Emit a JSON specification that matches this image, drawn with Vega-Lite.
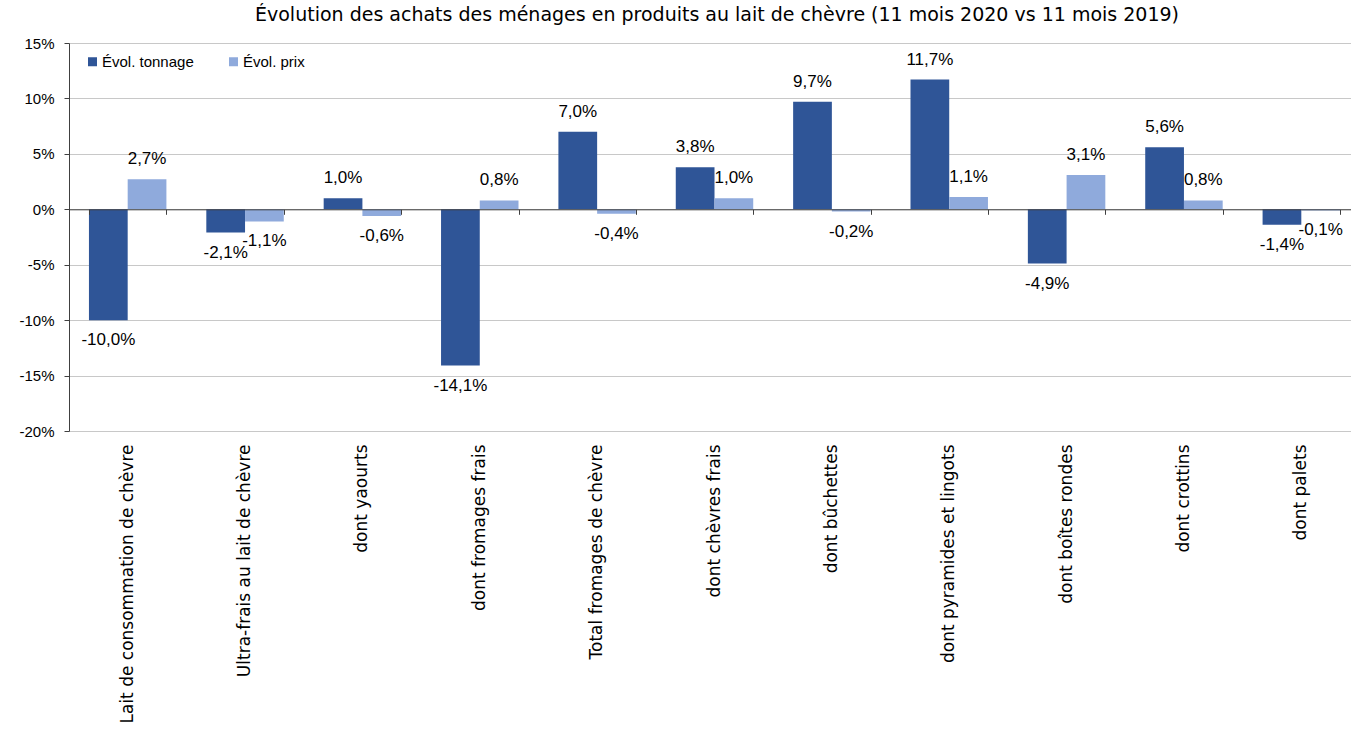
{
  "$schema": "https://vega.github.io/schema/vega-lite/v6.json",
  "width": 1282,
  "height": 388,
  "autosize": {"type": "none"},
  "padding": {"left": 69, "top": 43, "right": 0, "bottom": 301},
  "title": {
    "text": "Évolution des achats des ménages en produits au lait de chèvre (11 mois 2020 vs 11 mois 2019)",
    "font": "DejaVu Sans",
    "fontSize": 19,
    "fontWeight": "normal",
    "color": "#000000",
    "offset": 11,
    "dx": 7
  },
  "config": {
    "view": {"stroke": null},
    "locale": {
      "number": {"decimal": ",", "thousands": " ", "grouping": [3], "currency": ["", " €"], "minus": "-", "percent": "%"}
    }
  },
  "data": {
    "values": [
      {"cat": "Lait de consommation de chèvre", "series": "Évol. tonnage", "value": -0.100},
      {"cat": "Lait de consommation de chèvre", "series": "Évol. prix", "value": 0.027},
      {"cat": "Ultra-frais au lait de chèvre", "series": "Évol. tonnage", "value": -0.021},
      {"cat": "Ultra-frais au lait de chèvre", "series": "Évol. prix", "value": -0.011},
      {"cat": "dont yaourts", "series": "Évol. tonnage", "value": 0.010},
      {"cat": "dont yaourts", "series": "Évol. prix", "value": -0.006},
      {"cat": "dont fromages frais", "series": "Évol. tonnage", "value": -0.141},
      {"cat": "dont fromages frais", "series": "Évol. prix", "value": 0.008},
      {"cat": "Total fromages de chèvre", "series": "Évol. tonnage", "value": 0.070},
      {"cat": "Total fromages de chèvre", "series": "Évol. prix", "value": -0.004},
      {"cat": "dont chèvres frais", "series": "Évol. tonnage", "value": 0.038},
      {"cat": "dont chèvres frais", "series": "Évol. prix", "value": 0.010},
      {"cat": "dont bûchettes", "series": "Évol. tonnage", "value": 0.097},
      {"cat": "dont bûchettes", "series": "Évol. prix", "value": -0.002},
      {"cat": "dont pyramides et lingots", "series": "Évol. tonnage", "value": 0.117},
      {"cat": "dont pyramides et lingots", "series": "Évol. prix", "value": 0.011},
      {"cat": "dont boîtes rondes", "series": "Évol. tonnage", "value": -0.049},
      {"cat": "dont boîtes rondes", "series": "Évol. prix", "value": 0.031},
      {"cat": "dont crottins", "series": "Évol. tonnage", "value": 0.056},
      {"cat": "dont crottins", "series": "Évol. prix", "value": 0.008},
      {"cat": "dont palets", "series": "Évol. tonnage", "value": -0.014},
      {"cat": "dont palets", "series": "Évol. prix", "value": -0.001}
    ]
  },
  "encoding": {
    "xOffset": {"field": "series", "type": "nominal", "sort": ["Évol. tonnage", "Évol. prix"], "scale": {"paddingInner": 0, "paddingOuter": 0}},
    "y": {
      "field": "value",
      "type": "quantitative",
      "scale": {"domain": [-0.2, 0.15], "nice": false, "zero": false},
      "axis": {
        "title": null,
        "values": [-0.2, -0.15, -0.1, -0.05, 0, 0.05, 0.1, 0.15],
        "format": ".0%",
        "labelFont": "Liberation Sans",
        "labelFontSize": 15,
        "labelColor": "#000000",
        "labelPadding": 10,
        "tickSize": 5,
        "tickColor": "#404040",
        "domainColor": "#404040",
        "gridColor": "#c8c8c8",
        "gridWidth": 1
      }
    }
  },
  "layer": [
    {
      "mark": {"type": "bar"},
      "encoding": {
        "x": {
          "field": "cat",
          "type": "nominal",
          "sort": null,
          "scale": {"range": [0, 1291], "paddingInner": 0.34, "paddingOuter": 0.17},
          "axis": {
            "title": null,
            "orient": "bottom",
            "labelAngle": -90,
            "domain": false,
            "ticks": false,
            "grid": false,
            "labelFont": "DejaVu Sans",
            "labelFontSize": 17,
            "labelColor": "#000000",
            "labelPadding": 13,
            "labelLimit": 400
          }
        },
        "color": {
          "field": "series",
          "type": "nominal",
          "sort": ["Évol. tonnage", "Évol. prix"],
          "scale": {"domain": ["Évol. tonnage", "Évol. prix"], "range": ["#2F5597", "#8FAADC"]},
          "legend": {
            "title": null,
            "orient": "none",
            "legendX": 16,
            "legendY": 11,
            "direction": "horizontal",
            "symbolType": "square",
            "symbolSize": 81,
            "symbolStrokeWidth": 0,
            "labelFont": "Liberation Sans",
            "labelFontSize": 15,
            "labelColor": "#000000",
            "labelOffset": 2,
            "columnPadding": 32
          }
        }
      }
    },
    {
      "transform": [{"filter": "datum.value >= 0"}],
      "mark": {"type": "text", "baseline": "middle", "dy": -20, "font": "Liberation Sans", "fontSize": 17, "color": "#000000"},
      "encoding": {
        "x": {
          "field": "cat",
          "type": "nominal",
          "sort": null,
          "axis": {
            "title": null,
            "orient": "bottom",
            "offset": -221.7,
            "labels": false,
            "grid": false,
            "domain": true,
            "ticks": true,
            "tickBand": "extent",
            "tickSize": 5,
            "domainColor": "#404040",
            "tickColor": "#404040",
            "zindex": 1
          }
        },
        "text": {"field": "value", "type": "quantitative", "format": ".1%"}
      }
    },
    {
      "transform": [{"filter": "datum.value < 0"}],
      "mark": {"type": "text", "baseline": "middle", "dy": 20, "font": "Liberation Sans", "fontSize": 17, "color": "#000000"},
      "encoding": {
        "x": {"field": "cat", "type": "nominal", "sort": null, "axis": null},
        "text": {"field": "value", "type": "quantitative", "format": ".1%"}
      }
    }
  ],
  "resolve": {"axis": {"x": "independent"}}
}
